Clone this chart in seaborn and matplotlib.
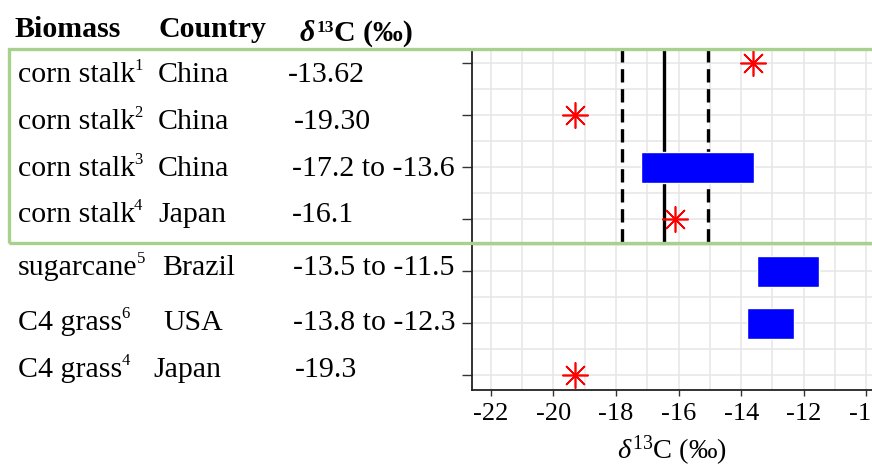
import numpy as np
import pandas as pd
import matplotlib
matplotlib.use("Agg")
import matplotlib.pyplot as plt
import seaborn as sns
from matplotlib.patches import Rectangle
from matplotlib.transforms import Bbox, TransformedBbox

# table / data
biomass = ["corn stalk", "corn stalk", "corn stalk", "corn stalk", "sugarcane", "C4 grass", "C4 grass"]
refs = ["1", "2", "3", "4", "5", "6", "4"]
country = ["China", "China", "China", "Japan", "Brazil", "USA", "Japan"]
value_text = ["-13.62", "-19.30", "-17.2 to -13.6", "-16.1", "-13.5 to -11.5", "-13.8 to -12.3", "-19.3"]
d13c_low = [-13.62, -19.30, -17.2, -16.1, -13.5, -13.8, -19.3]
d13c_high = [-13.62, -19.30, -13.6, -16.1, -11.5, -12.3, -19.3]
corn_mean = -16.45
corn_band = [-17.8, -15.05]
x_ticks = [-22, -20, -18, -16, -14, -12, -10]

sns.set_theme(style="white")
plt.rcParams["font.family"] = ["Liberation Serif", "DejaVu Serif"]
plt.rcParams["mathtext.fontset"] = "custom"
plt.rcParams["mathtext.rm"] = "Liberation Serif"
plt.rcParams["mathtext.it"] = "Liberation Serif:italic"
plt.rcParams["mathtext.bf"] = "Liberation Serif:bold"
plt.rcParams["axes.unicode_minus"] = False
plt.rcParams["text.color"] = "black"
plt.rcParams["axes.labelcolor"] = "black"
plt.rcParams["xtick.color"] = "black"
plt.rcParams["ytick.color"] = "black"

W, H = 872, 468
n = len(biomass)
df = pd.DataFrame({"biomass": biomass, "country": country, "lo": d13c_low, "hi": d13c_high})
df["row"] = n - np.arange(n)  # top row = n

fig = plt.figure(figsize=(W / 100, H / 100), dpi=100)
ax = fig.add_axes([472 / W, (H - 390) / H, 400 / W, 339 / H])

# grid
ax.set_xticks(x_ticks)
ax.set_xticks(np.arange(-23, -9, 2), minor=True)
ax.set_yticks(df["row"])
ax.set_yticks(np.arange(1.5, n, 1), minor=True)
ax.grid(True, which="both", color="#e6e6e6", linewidth=1.1)
ax.set_axisbelow(True)

# reference lines for corn stalk rows
ax.vlines(corn_band, 3.56, 7.3, colors="black", linestyles=(0, (4, 2)), linewidth=2.4)
ax.vlines(corn_mean, 3.56, 7.3, colors="black", linewidth=2.4)

rng = df[df["lo"] != df["hi"]]
pts = df[df["lo"] == df["hi"]]
ax.barh(rng["row"], rng["hi"] - rng["lo"], left=rng["lo"], height=0.6, color="#0000ff", zorder=3)
sns.scatterplot(x=pts["lo"], y=pts["row"], marker=(8, 2, 0), s=330, color="#ff0000",
                linewidth=1.2, ax=ax, zorder=4)

ax.set_xlim(-22.6, -9.82)
ax.set_ylim(0.72, 7.24)
ax.set_ylabel("")
ax.set_xlabel(r"$\delta^{13}$C (‰)", fontsize=20.5, labelpad=7)
ax.tick_params(axis="y", which="major", length=7, width=1, color="#333333", labelleft=False, left=True)
ax.tick_params(axis="x", which="major", length=4, width=1, color="#333333", labelsize=19,
               bottom=True, pad=5)
ax.tick_params(which="minor", length=0)
for s in ["top", "right"]:
    ax.spines[s].set_visible(False)
for s in ["left", "bottom"]:
    ax.spines[s].set_color("#222222")
    ax.spines[s].set_linewidth(1.3)

renderer = fig.canvas.get_renderer()


def px(x, y):
    return x / W, 1 - y / H


def put(x, y, s, **kw):
    return fig.text(*px(x, y), s, va="baseline", **kw)


def right_edge(t):
    return t.get_window_extent(renderer).x1


# header
put(14, 37, "Biomass", fontsize=21.5, fontweight="bold")
put(158, 37, "Country", fontsize=21.5, fontweight="bold")
d = put(300, 41, "δ", fontsize=21.5, fontweight="bold", fontstyle="italic")
sup = put(right_edge(d) + 1, 32, "13", fontsize=12.5, fontweight="bold")
put(right_edge(sup), 41, "C (‰)", fontsize=21.5, fontweight="bold")

# table rows
base_y = [82, 129, 176, 222, 275, 330, 377]
country_x = [158, 158, 158, 158, 162, 163, 153]
value_x = [288, 294, 292, 292, 293, 293, 295]
clip = TransformedBbox(Bbox([[0, 0], [455 / W, 1]]), fig.transFigure)
for i in range(n):
    b = put(18, base_y[i], biomass[i], fontsize=21.5)
    put(right_edge(b) - 1, base_y[i] - 12, refs[i], fontsize=12)
    put(country_x[i], base_y[i], country[i], fontsize=21.5)
    t = put(value_x[i], base_y[i], value_text[i], fontsize=21.5)
    t.set_clip_box(clip)
    t.set_clip_on(True)

# green box around the corn stalk rows
fig.patches.append(Rectangle(px(9, 243), (W + 10) / W, 194 / H, transform=fig.transFigure,
                             fill=False, edgecolor="#a9d18e", linewidth=2.4, zorder=10))

fig.savefig("out.png", dpi=100)
